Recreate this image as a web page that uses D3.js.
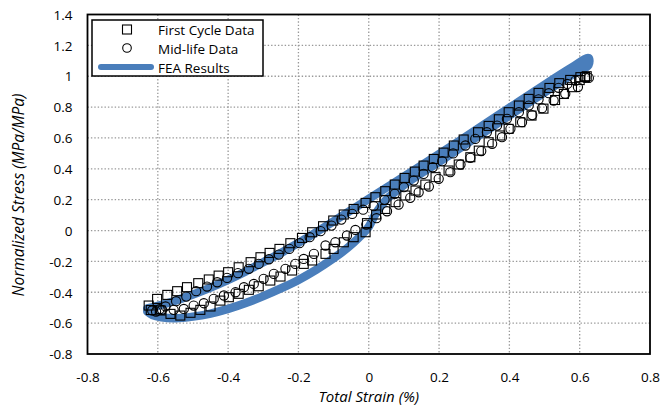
<!DOCTYPE html>
<html>
<head>
<meta charset="utf-8">
<script src="https://cdn.jsdelivr.net/npm/d3@7"></script>
<style>
  html, body { margin: 0; padding: 0; background: #fff; }
  svg { display: block; }
  text { font-family: "Open Sans", "Noto Sans", sans-serif; fill: #000; }
</style>
</head>
<body>
<svg id="chart" width="661" height="407"></svg>
<script>
// ---------------- DATA ----------------
const xTicks = [-0.8, -0.6, -0.4, -0.2, 0, 0.2, 0.4, 0.6, 0.8];
const yTicks = [-0.8, -0.6, -0.4, -0.2, 0, 0.2, 0.4, 0.6, 0.8, 1, 1.2, 1.4];

// First Cycle Data (squares)
const firstCycleStrain = [
  -0.009, -0.005, 0.021, 0.047, 0.076, 0.104, 0.133, 0.161, 0.190, 0.227, 0.256, 0.289,
  0.313, 0.341, 0.374, 0.398, 0.431, 0.463, 0.497, 0.530, 0.555, 0.578, 0.600, 0.615,
  0.620, 0.602, 0.573, 0.542, 0.514, 0.483, 0.455, 0.427, 0.398, 0.370, 0.341, 0.311,
  0.270, 0.242, 0.213, 0.185, 0.156, 0.131, 0.102, 0.074, 0.047, 0.019, -0.009, -0.043,
  -0.071, -0.101, -0.130, -0.161, -0.190, -0.223, -0.254, -0.282, -0.308, -0.336, -0.370, -0.400,
  -0.427, -0.455, -0.485, -0.517, -0.545, -0.573, -0.602, -0.626,
  -0.620, -0.592, -0.564, -0.536, -0.507, -0.479, -0.450, -0.422, -0.398, -0.370, -0.341, -0.313,
  -0.280, -0.251, -0.218, -0.185, -0.161, -0.123, -0.100, -0.071, -0.043
];
const firstCycleStress = [
  -0.011, 0.048, 0.104, 0.140, 0.184, 0.227, 0.259, 0.298, 0.346, 0.389, 0.428, 0.475,
  0.518, 0.572, 0.616, 0.659, 0.702, 0.745, 0.790, 0.846, 0.885, 0.929, 0.975, 0.995,
  1.000, 0.994, 0.976, 0.955, 0.924, 0.892, 0.853, 0.810, 0.767, 0.721, 0.678, 0.637,
  0.590, 0.551, 0.505, 0.464, 0.421, 0.382, 0.341, 0.298, 0.255, 0.216, 0.179, 0.140,
  0.104, 0.065, 0.028, -0.011, -0.048, -0.082, -0.119, -0.145, -0.173, -0.205, -0.238, -0.270,
  -0.292, -0.317, -0.341, -0.367, -0.393, -0.417, -0.443, -0.486,
  -0.515, -0.518, -0.540, -0.551, -0.533, -0.514, -0.492, -0.454, -0.432, -0.410, -0.384, -0.361,
  -0.324, -0.298, -0.259, -0.216, -0.194, -0.151, -0.119, -0.076, -0.043
];

// Mid-life Data (circles)
const midLifeStrain = [
  -0.616, -0.595, -0.578, -0.548, -0.519, -0.491, -0.460, -0.431, -0.403, -0.372, -0.341, -0.313,
  -0.284, -0.256, -0.226, -0.197, -0.168, -0.137, -0.106, -0.078, -0.047, -0.016, 0.014, 0.045,
  0.074, 0.100, 0.128, 0.156, 0.182, 0.209, 0.240, 0.275, 0.303, 0.336, 0.365, 0.393,
  0.427, 0.455, 0.483, 0.512, 0.540, 0.565, 0.588, 0.616,
  0.626, 0.595, 0.559, 0.526, 0.493, 0.465, 0.436, 0.403, 0.379, 0.351, 0.320, 0.289,
  0.261, 0.232, 0.199, 0.171, 0.142, 0.118, 0.085, 0.052, 0.022, -0.007, -0.038, -0.062,
  -0.095, -0.123, -0.156, -0.185, -0.209, -0.237, -0.270, -0.299, -0.327, -0.355, -0.379, -0.412,
  -0.441, -0.469, -0.498, -0.526, -0.555, -0.588, -0.605
];
const midLifeStress = [
  -0.518, -0.510, -0.492, -0.458, -0.428, -0.393, -0.363, -0.335, -0.307, -0.276, -0.248, -0.216,
  -0.186, -0.156, -0.119, -0.082, -0.043, -0.004, 0.032, 0.071, 0.108, 0.135, 0.158, 0.199,
  0.238, 0.281, 0.324, 0.367, 0.410, 0.449, 0.500, 0.551, 0.594, 0.637, 0.680, 0.724,
  0.767, 0.810, 0.850, 0.890, 0.925, 0.950, 0.972, 0.989,
  0.989, 0.930, 0.886, 0.842, 0.793, 0.748, 0.702, 0.659, 0.605, 0.562, 0.515, 0.471,
  0.428, 0.378, 0.335, 0.285, 0.248, 0.212, 0.168, 0.125, 0.080, 0.039, 0.004, -0.032,
  -0.076, -0.097, -0.151, -0.184, -0.216, -0.248, -0.281, -0.313, -0.346, -0.367, -0.400, -0.421,
  -0.443, -0.471, -0.486, -0.508, -0.514, -0.514, -0.525
];

// FEA Results (thick line, closed loop)
const feaStrain = [
  -0.630, -0.600, -0.550, -0.500, -0.450, -0.400, -0.350, -0.300, -0.250, -0.200, -0.150, -0.100,
  -0.050, 0.000, 0.100, 0.200, 0.300, 0.400, 0.500, 0.580, 0.625,
  0.625, 0.580, 0.500, 0.400, 0.300, 0.200, 0.100, 0.050, 0.020, 0.000, -0.030, -0.060,
  -0.100, -0.150, -0.200, -0.250, -0.300, -0.350, -0.400, -0.450, -0.500, -0.550, -0.590, -0.615,
  -0.630
];
const feaStress = [
  -0.505, -0.488, -0.455, -0.415, -0.370, -0.320, -0.265, -0.205, -0.145, -0.080, -0.012, 0.060,
  0.132, 0.205, 0.350, 0.495, 0.645, 0.795, 0.945, 1.060, 1.118,
  1.072, 1.012, 0.895, 0.745, 0.595, 0.445, 0.295, 0.200, 0.110, 0.025, -0.050, -0.112,
  -0.180, -0.255, -0.320, -0.375, -0.425, -0.470, -0.508, -0.538, -0.558, -0.568, -0.562, -0.548,
  -0.525
];

const legendLabels = ["First Cycle Data", "Mid-life Data", "FEA Results"];

// ---------------- CHART ----------------
const svg = d3.select("#chart");
const plotL = 87.5, plotR = 650, plotT = 14.5, plotB = 354;
const x = d3.scaleLinear().domain([-0.8, 0.8]).range([plotL, plotR]);
const y = d3.scaleLinear().domain([-0.8, 1.4]).range([plotB, plotT]);
const blue = "#4a7ebb";

// gridlines
const grid = svg.append("g");
grid.selectAll("line.v").data(xTicks.slice(1, -1)).join("line")
  .attr("class", "v")
  .attr("x1", d => x(d)).attr("x2", d => x(d))
  .attr("y1", plotT).attr("y2", plotB)
  .attr("stroke", "#999").attr("stroke-width", 1.3).attr("stroke-dasharray", "1.4,2");
grid.selectAll("line.h").data(yTicks.slice(1, -1)).join("line")
  .attr("class", "h")
  .attr("y1", d => y(d)).attr("y2", d => y(d))
  .attr("x1", plotL).attr("x2", plotR)
  .attr("stroke", "#999").attr("stroke-width", 1.3).attr("stroke-dasharray", "1.4,2");

// axes (labels only)
const fmt = d => String(+d.toFixed(1));
const xAxis = d3.axisBottom(x).tickValues(xTicks).tickSize(0).tickPadding(0).tickFormat(fmt);
const gx = svg.append("g").attr("transform", `translate(0,${plotB})`).call(xAxis);
gx.select(".domain").remove();
gx.selectAll("text").attr("y", 28).attr("dy", 0)
  .style("font-size", "13.5px").style("font-family", "'Open Sans', sans-serif").attr("fill", "#000");

const yAxis = d3.axisLeft(y).tickValues(yTicks).tickSize(0).tickPadding(0).tickFormat(fmt);
const gy = svg.append("g").attr("transform", `translate(${plotL},0)`).call(yAxis);
gy.select(".domain").remove();
gy.selectAll("text").attr("x", -15).attr("dy", "0.35em")
  .style("font-size", "13.5px").style("font-family", "'Open Sans', sans-serif").attr("fill", "#000");

// FEA line
const feaPts = feaStrain.map((s, i) => [s, feaStress[i]]);
svg.append("path")
  .datum(feaPts)
  .attr("d", d3.line().x(d => x(d[0])).y(d => y(d[1])).curve(d3.curveCatmullRom))
  .attr("fill", "none").attr("stroke", blue).attr("stroke-width", 8.5)
  .attr("stroke-linecap", "round").attr("stroke-linejoin", "round");

// squares
const sq = 9;
svg.append("g").selectAll("rect")
  .data(firstCycleStrain.map((s, i) => [s, firstCycleStress[i]]))
  .join("rect")
  .attr("x", d => x(d[0]) - sq / 2).attr("y", d => y(d[1]) - sq / 2)
  .attr("width", sq).attr("height", sq)
  .attr("fill", "none").attr("stroke", "#000").attr("stroke-width", 1.1);

// circles
svg.append("g").selectAll("circle")
  .data(midLifeStrain.map((s, i) => [s, midLifeStress[i]]))
  .join("circle")
  .attr("cx", d => x(d[0])).attr("cy", d => y(d[1])).attr("r", 4.6)
  .attr("fill", "none").attr("stroke", "#000").attr("stroke-width", 1.1);

// plot border
svg.append("rect").attr("x", plotL).attr("y", plotT)
  .attr("width", plotR - plotL).attr("height", plotB - plotT)
  .attr("fill", "none").attr("stroke", "#000").attr("stroke-width", 1.8);

// legend
const lg = svg.append("g");
lg.append("rect").attr("x", 92).attr("y", 20).attr("width", 171).attr("height", 56)
  .attr("fill", "#fff").attr("stroke", "#000").attr("stroke-width", 1.5);
lg.append("rect").attr("x", 127 - sq / 2).attr("y", 29.5 - sq / 2).attr("width", sq).attr("height", sq)
  .attr("fill", "none").attr("stroke", "#000").attr("stroke-width", 1.1);
lg.append("circle").attr("cx", 127).attr("cy", 48).attr("r", 4.3)
  .attr("fill", "none").attr("stroke", "#000").attr("stroke-width", 1.1);
lg.append("line").attr("x1", 101).attr("x2", 151).attr("y1", 67).attr("y2", 67)
  .attr("stroke", blue).attr("stroke-width", 6).attr("stroke-linecap", "round");
lg.selectAll("text").data(legendLabels).join("text")
  .attr("x", 158).attr("y", (d, i) => 34.5 + i * 19)
  .style("font-size", "13.5px").text(d => d);

// axis titles
svg.append("text").attr("x", x(0)).attr("y", 402).attr("text-anchor", "middle")
  .style("font-size", "15px").style("font-style", "italic").text("Total Strain (%)");
svg.append("text").attr("transform", `translate(24,195) rotate(-90)`).attr("text-anchor", "middle")
  .style("font-size", "15.5px").style("font-style", "italic").text("Normalized Stress (MPa/MPa)");
</script>
</body>
</html>
